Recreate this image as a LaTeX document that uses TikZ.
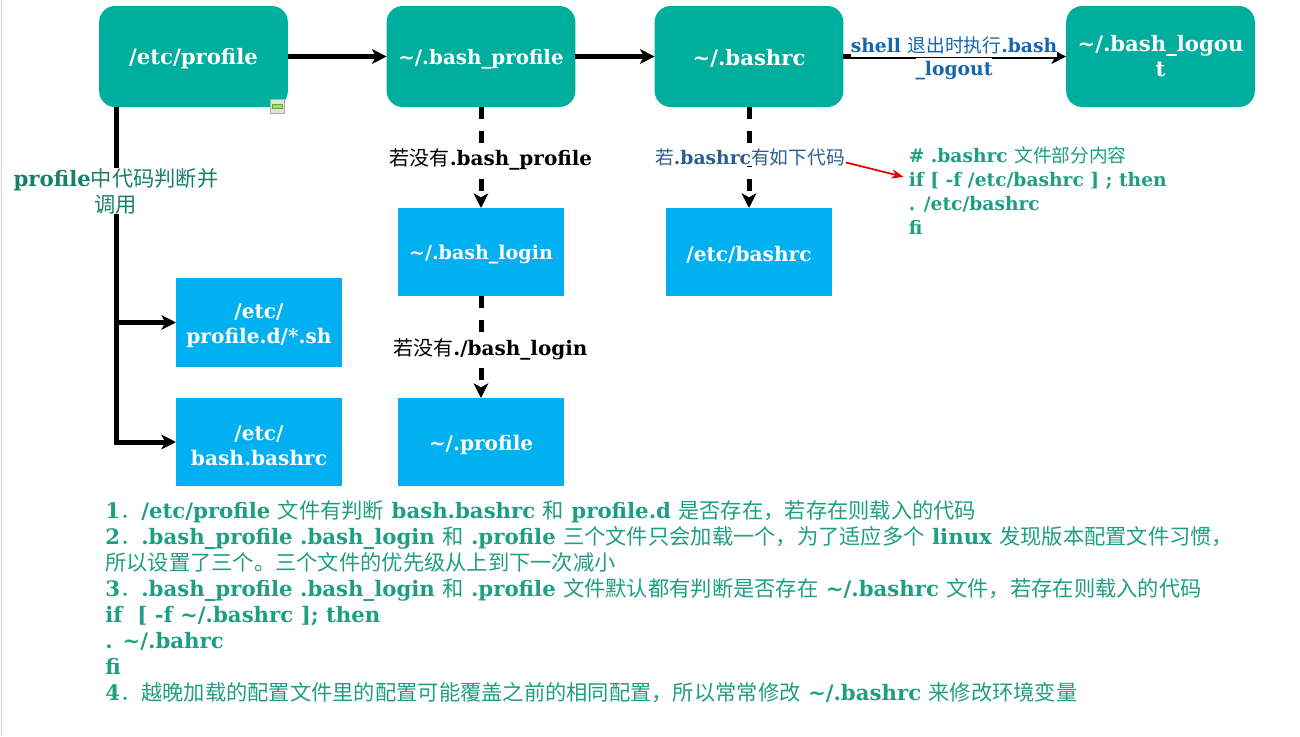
\documentclass[tikz,border=0pt]{standalone}
\usepackage{fontspec}
\setmainfont{DejaVu Serif}
\newfontfamily\cjk{Noto Sans CJK SC}
\newcommand{\C}[1]{{\normalfont\cjk #1}}
\definecolor{tealbox}{HTML}{00AE9D}
\definecolor{bluebox}{HTML}{00B0F0}
\definecolor{noteteal}{HTML}{1E9F83}
\definecolor{proflab}{HTML}{17806B}
\definecolor{bashlab}{HTML}{2A5F8F}
\definecolor{shelllab}{HTML}{1466B0}
\definecolor{markbg}{HTML}{DDE3DD}
\definecolor{markline}{HTML}{A8ADA8}
\definecolor{markfill}{HTML}{9BE564}
\definecolor{markedge}{HTML}{6FA040}
\usetikzlibrary{arrows.meta}
\tikzset{
  x=0.75pt,y=-0.75pt,
  lift/.style={execute at begin node={\rule{0pt}{#1}}},
  boxtext/.style={text=white,align=center,inner sep=0pt,outer sep=0pt,anchor=center,lift=15pt},
  roundbox/.style={boxtext,font=\bfseries\fontsize{15.9}{18.8}\selectfont,fill=tealbox,rounded corners=12pt,minimum width=141.5pt,minimum height=75.75pt},
  bluenode/.style={boxtext,fill=bluebox,minimum width=124.5pt,minimum height=66pt,font=\bfseries\fontsize{15.1}{18.8}\selectfont},
  link/.style={line width=3.75pt,draw=black,-{Stealth[length=11pt,width=11pt,inset=3pt]}},
  dashlink/.style={link,dash pattern=on 9pt off 9pt},
  lab/.style={fill=white,inner sep=0pt,align=center,font=\bfseries\fontsize{15}{19}\selectfont},
  smalllab/.style={lab,font=\bfseries\fontsize{14.05}{18}\selectfont},
  note/.style={text=noteteal,font=\bfseries,align=left,anchor=north west,inner sep=0pt},
}
\begin{document}
\begin{tikzpicture}
\useasboundingbox (0,0) rectangle (1300,736);
\fill[white] (0,0) rectangle (1300,736);
\draw[draw=black!15,line width=0.75pt] (1,0) -- (1,736);

\node[roundbox] (ep) at (193.5,56.5) {/etc/profile};
\node[roundbox,font=\bfseries\fontsize{14.9}{18.8}\selectfont] (bp) at (481,56.5) {\textasciitilde/.bash\_profile};
\node[roundbox] (br) at (749,56.5) {\textasciitilde/.bashrc};
\node[roundbox] (bl) at (1160.5,56.5) {\textasciitilde/.bash\_logou\\t};
\node[bluenode,font=\bfseries\fontsize{14.3}{18.8}\selectfont] (lg) at (481,252) {\textasciitilde/.bash\_login};
\node[bluenode,lift=14.3pt] (eb) at (749,252) {/etc/bashrc};
\node[bluenode,minimum height=66.75pt] (pd) at (259,322.5) {\rule{0pt}{16.5pt}/etc/\\profile.d/*.sh};
\node[bluenode] (bb) at (259,442) {\rule{0pt}{16.5pt}/etc/\\bash.bashrc};
\node[bluenode,lift=16pt] (pf) at (481,442) {\textasciitilde/.profile};

% small collapse marker
\node[draw=markline,fill=markbg,minimum width=10.5pt,minimum height=10.5pt,inner sep=0pt,line width=0.5pt] (mk) at (277.5,106.5) {};
\node[draw=markedge,fill=markfill,minimum width=7.5pt,minimum height=3pt,inner sep=0pt,line width=0.4pt] (mki) at (mk.center) {};

\coordinate (trunk) at (116.5,107);
\draw[link] (ep) -- (bp);
\draw[link] (bp) -- (br);
\draw[link] (br) -- (bl);
\draw[dashlink] (bp) -- (lg);
\draw[dashlink] (lg) -- (pf);
\draw[dashlink] (br) -- (eb);
\draw[link] (trunk) |- (pd.west);
\draw[link] (trunk) |- (bb.west);

\node[lab,text=proflab,font=\bfseries\fontsize{15.95}{19.5}\selectfont] (lp) at (116,191) {profile\C{中代码判断并}\\\C{调用}};
\node[lab,text=black] (l1) at (491,159) {\C{若没有}.bash\_profile};
\node[lab,text=black] (l2) at (490.5,349) {\C{若没有}./bash\_login};
\node[smalllab,text=bashlab] (l3) at (750,157.5) {\C{若}.bashrc\C{有如下代码}};
\node[smalllab,text=shelllab,minimum height=17.5pt] (s1) at (954,45) {shell \C{退出时执行}.bash};
\node[smalllab,text=shelllab,minimum height=20pt] (s2) at (954,71) {\_logout};

\node[note,font=\bfseries\fontsize{14}{18}\selectfont] (code) at (908.5,146) {\# .bashrc \C{文件部分内容}\\if [ -f /etc/bashrc ] ; then\\. /etc/bashrc\\fi};
\draw[draw=red!90!black,line width=1.3pt,-{Stealth[length=9pt,width=7pt]}] (l3.east) ++(1,5) -- ([xshift=-3.75pt,yshift=10pt]code.west);

\node[note,font=\bfseries\fontsize{15.95}{19.5}\selectfont] (notes) at (105,500) {1\C{．}/etc/profile \C{文件有判断} bash.bashrc \C{和} profile.d \C{是否存在，若存在则载入的代码}\\
2\C{．}.bash\_profile .bash\_login \C{和} .profile \C{三个文件只会加载一个，为了适应多个} linux \C{发现版本配置文件习惯，}\\
\C{所以设置了三个。三个文件的优先级从上到下一次减小}\\
3\C{．}.bash\_profile .bash\_login \C{和} .profile \C{文件默认都有判断是否存在} \textasciitilde/.bashrc \C{文件，若存在则载入的代码}\\
if~~[ -f \textasciitilde/.bashrc ]; then\\
. \textasciitilde/.bahrc\\
fi\\
4\C{．}\C{越晚加载的配置文件里的配置可能覆盖之前的相同配置，所以常常修改} \textasciitilde/.bashrc \C{来修改环境变量}};
\end{tikzpicture}
\end{document}
